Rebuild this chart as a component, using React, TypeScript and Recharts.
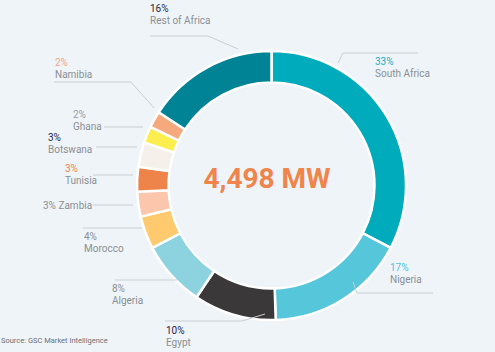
import React from 'react';
import { PieChart, Pie, Cell } from 'recharts';

const countries = ['South Africa', 'Nigeria', 'Egypt', 'Algeria', 'Morocco', 'Zambia', 'Tunisia', 'Botswana', 'Ghana', 'Namibia', 'Rest of Africa'];
const shares = [33, 17, 10, 8, 4, 3, 3, 3, 2, 2, 16];
const colors = ['#00abbb', '#56c6da', '#3a3838', '#8dd3df', '#ffc96e', '#fcc6ad', '#ef844a', '#f5f0e9', '#fcee4e', '#f7a97e', '#008394'];
const totalLabel = '4,498 MW';
const sourceText = 'Source: GSC Market Intelligence';

const data = countries.map((name, i) => ({ name, value: shares[i] }));

type LabelLayout = {
  x: number;
  y: number;
  pctColor: string;
  inline?: boolean;
  line: [number, number][];
};

const layout: Record<string, LabelLayout> = {
  'South Africa': { x: 375, y: 65, pctColor: '#1aaec0', line: [[418, 53], [343, 53], [338, 63]] },
  Nigeria: { x: 390, y: 271, pctColor: '#4cc3da', line: [[433, 293], [357, 293], [353, 282]] },
  Egypt: { x: 166, y: 334, pctColor: '#2e1a47', line: [[165, 321], [242, 321], [265, 314]] },
  Algeria: { x: 112, y: 292, pctColor: '#8a8f94', line: [[115, 280], [177, 280]] },
  Morocco: { x: 84, y: 240, pctColor: '#8a8f94', line: [[83, 228], [142, 228]] },
  Zambia: { x: 43, y: 209, pctColor: '#8a8f94', inline: true, line: [[93, 205], [133, 205]] },
  Tunisia: { x: 65, y: 172, pctColor: '#ef844a', line: [[93, 175], [133, 175]] },
  Botswana: { x: 48, y: 141, pctColor: '#1f2a3c', line: [[96, 147], [137, 147]] },
  Ghana: { x: 73, y: 118, pctColor: '#9aa0a6', line: [[104, 127], [143, 127]] },
  Namibia: { x: 55, y: 66, pctColor: '#f5a38b', line: [[54, 82], [131, 82], [154, 108]] },
  'Rest of Africa': { x: 150, y: 12, pctColor: '#1f2a3c', line: [[150, 36], [208, 36], [238, 49]] },
};

const FONT = 'Roboto, "Noto Sans", sans-serif';
const NAME_COLOR = '#8a8f94';

const renderLabel = (props: any) => {
  const name: string = props.name ?? props.payload?.name;
  const value: number = props.value ?? props.payload?.value;
  const l = layout[name];
  if (!l) return null;
  const pts = l.line.map((p) => p.join(',')).join(' ');
  return (
    <g key={`lbl-${name}`}>
      <polyline points={pts} fill="none" stroke="#c9ced2" strokeWidth={1} />
      {l.inline ? (
        <text x={l.x} y={l.y} fontFamily={FONT} fontSize={10} fill={NAME_COLOR}>
          {`${value}% ${name}`}
        </text>
      ) : (
        <g>
          <text x={l.x} y={l.y} fontFamily={FONT} fontSize={10} fill={l.pctColor}>
            {`${value}%`}
          </text>
          <text x={l.x} y={l.y + 11.5} fontFamily={FONT} fontSize={10} fill={NAME_COLOR}>
            {name}
          </text>
        </g>
      )}
    </g>
  );
};

export default function App() {
  return (
    <div style={{ position: 'absolute', left: 0, top: 0, width: 495, height: 352, background: '#eff4f8' }}>
      <PieChart width={495} height={352}>
        <Pie
          data={data}
          dataKey="value"
          nameKey="name"
          cx={266.5}
          cy={180.5}
          innerRadius={103}
          outerRadius={134.5}
          startAngle={90}
          endAngle={-270}
          stroke="#ffffff"
          strokeWidth={2.5}
          label={renderLabel}
          labelLine={false}
          isAnimationActive={false}
        >
          {data.map((d, i) => (
            <Cell key={d.name} fill={colors[i]} />
          ))}
        </Pie>
        <text x={267} y={188} textAnchor="middle" fontFamily={FONT} fontWeight={700} fontSize={28} fill="#f0844a">
          {totalLabel}
        </text>
        <text x={1} y={343} fontFamily={FONT} fontSize={7.5} fill="#6b7075">
          {sourceText}
        </text>
      </PieChart>
    </div>
  );
}
